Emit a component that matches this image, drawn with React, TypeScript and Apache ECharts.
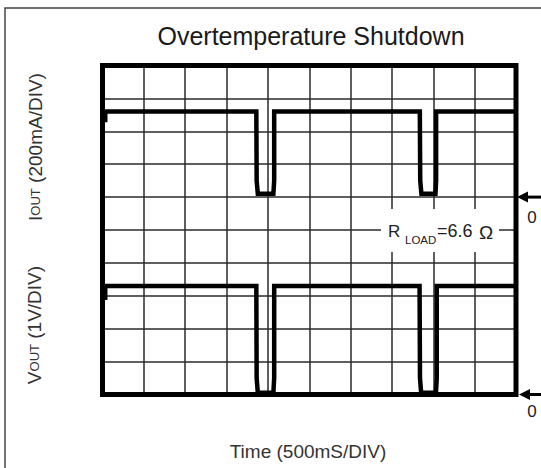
import React, { useEffect, useRef } from "react";
import * as echarts from "echarts";

// ---- data ----
// time axis: 500 ms / division, 10 divisions
const TIME_MAX_MS = 5000;
const TIME_DIV_MS = 500;

// Output current trace (mA), 200 mA / division, zero at 6 divisions from bottom
const IOUT_T_MS = [33, 33, 1860, 1864, 1878, 2066, 2076, 2076, 3837, 3842, 3856, 4026, 4034, 4034, 5000];
const IOUT_MA = [455, 520, 520, 100, 20, 20, 100, 520, 520, 100, 20, 20, 100, 520, 520];
const MA_PER_DIV = 200;
const IOUT_ZERO_DIV = 6;

// Output voltage trace (V), 1 V / division, zero at the bottom line
const VOUT_T_MS = [33, 33, 1860, 1864, 1878, 2066, 2076, 2076, 3834, 3839, 3853, 4032, 4042, 4042, 5000];
const VOUT_V = [2.87, 3.3, 3.3, 0.5, 0.05, 0.05, 0.5, 3.3, 3.3, 0.5, 0.05, 0.05, 0.5, 3.3, 3.3];
const V_PER_DIV = 1;
const VOUT_ZERO_DIV = 0;

const Y_DIVS = 10;

const TITLE = "Overtemperature Shutdown";
const X_LABEL = "Time (500mS/DIV)";

const FONT = "'Liberation Sans', Arial, sans-serif";

export default function App() {
  const ref = useRef<HTMLDivElement>(null);

  useEffect(() => {
    if (!ref.current) return;
    const chart = echarts.init(ref.current, undefined, { renderer: "svg" });

    const ioutData = IOUT_T_MS.map((t, i) => [t, IOUT_ZERO_DIV + IOUT_MA[i] / MA_PER_DIV]);
    const voutData = VOUT_T_MS.map((t, i) => [t, VOUT_ZERO_DIV + VOUT_V[i] / V_PER_DIV]);

    const split = { show: true, lineStyle: { color: "#2a2a2a", width: 1.5 } };

    chart.setOption({
      animation: false,
      backgroundColor: "#ffffff",
      grid: {
        left: 102.5,
        top: 65.5,
        width: 413.5,
        height: 329,
        show: true,
        borderColor: "#000",
        borderWidth: 5,
        backgroundColor: "transparent",
        z: 5,
      },
      xAxis: {
        type: "value",
        min: 0,
        max: TIME_MAX_MS,
        interval: TIME_DIV_MS,
        axisLine: { show: false },
        axisTick: { show: false },
        axisLabel: { show: false },
        splitLine: split,
      },
      yAxis: {
        type: "value",
        min: 0,
        max: Y_DIVS,
        interval: 1,
        axisLine: { show: false },
        axisTick: { show: false },
        axisLabel: { show: false },
        splitLine: split,
      },
      series: [
        {
          type: "line",
          data: ioutData,
          showSymbol: false,
          lineStyle: { color: "#000", width: 4.5, join: "miter" },
          z: 3,
        },
        {
          type: "line",
          data: voutData,
          showSymbol: false,
          lineStyle: { color: "#000", width: 4.5, join: "miter" },
          z: 3,
        },
      ],
    });

    const [xRight, yIZero] = chart.convertToPixel({ gridIndex: 0 }, [TIME_MAX_MS, IOUT_ZERO_DIV]) as number[];
    const [, yVZero] = chart.convertToPixel({ gridIndex: 0 }, [TIME_MAX_MS, VOUT_ZERO_DIV]) as number[];

    const arrow = (tipX: number, y: number) => [
      {
        type: "polygon",
        shape: { points: [[tipX, y], [tipX + 11, y - 5.5], [tipX + 11, y + 5.5]] },
        style: { fill: "#000" },
      },
      {
        type: "line",
        shape: { x1: tipX + 10, y1: y, x2: tipX + 24, y2: y },
        style: { stroke: "#000", lineWidth: 3 },
      },
    ];

    chart.setOption({
      graphic: [
        {
          type: "rect",
          shape: { x: 5, y: 8, width: 600, height: 520 },
          style: { fill: "none", stroke: "#444", lineWidth: 1.5 },
          z: 0,
        },
        {
          type: "text",
          x: 311,
          y: 36,
          style: { text: TITLE, font: `25px ${FONT}`, fill: "#1a1a1a", align: "center", verticalAlign: "middle" },
        },
        {
          type: "text",
          x: 308,
          y: 451,
          style: { text: X_LABEL, font: `19px ${FONT}`, fill: "#333", align: "center", verticalAlign: "middle" },
        },
        {
          type: "text",
          x: 35,
          y: 147,
          rotation: Math.PI / 2,
          style: {
            text: "{a|I}{b|OUT}{a| (200mA/DIV)}",
            rich: {
              a: { fontSize: 19, fontFamily: FONT, fill: "#333" },
              b: { fontSize: 13, fontFamily: FONT, fill: "#333" },
            },
            align: "center",
            verticalAlign: "middle",
          },
        },
        {
          type: "text",
          x: 34,
          y: 325,
          rotation: Math.PI / 2,
          style: {
            text: "{a|V}{b|OUT}{a| (1V/DIV)}",
            rich: {
              a: { fontSize: 19, fontFamily: FONT, fill: "#333" },
              b: { fontSize: 13, fontFamily: FONT, fill: "#333" },
            },
            align: "center",
            verticalAlign: "middle",
          },
        },
        // RLOAD label with white background
        {
          type: "rect",
          shape: { x: 381, y: 209, width: 118, height: 43 },
          style: { fill: "#fff" },
          z: 10,
        },
        {
          type: "text",
          x: 388,
          y: 231,
          z: 11,
          style: { text: "R", font: `17px ${FONT}`, fill: "#222", align: "left", verticalAlign: "middle" },
        },
        {
          type: "text",
          x: 405,
          y: 240,
          z: 11,
          style: { text: "LOAD", font: `11.5px ${FONT}`, fill: "#222", align: "left", verticalAlign: "middle" },
        },
        {
          type: "text",
          x: 437,
          y: 231,
          z: 11,
          style: { text: "=6.6", font: `18px ${FONT}`, fill: "#222", align: "left", verticalAlign: "middle" },
        },
        {
          type: "text",
          x: 479,
          y: 232,
          z: 11,
          style: { text: "Ω", font: `19px ${FONT}`, fill: "#222", align: "left", verticalAlign: "middle" },
        },
        ...arrow(xRight + 1, yIZero),
        ...arrow(xRight + 3, yVZero),
        {
          type: "text",
          x: xRight + 16,
          y: yIZero + 20,
          style: { text: "0", font: `17px ${FONT}`, fill: "#222", align: "center", verticalAlign: "middle" },
        },
        {
          type: "text",
          x: xRight + 16,
          y: yVZero + 17,
          style: { text: "0", font: `17px ${FONT}`, fill: "#222", align: "center", verticalAlign: "middle" },
        },
      ],
    });

    return () => chart.dispose();
  }, []);

  return (
    <div
      ref={ref}
      style={{ position: "fixed", left: 0, top: 0, width: 541, height: 468, background: "#fff" }}
    />
  );
}
